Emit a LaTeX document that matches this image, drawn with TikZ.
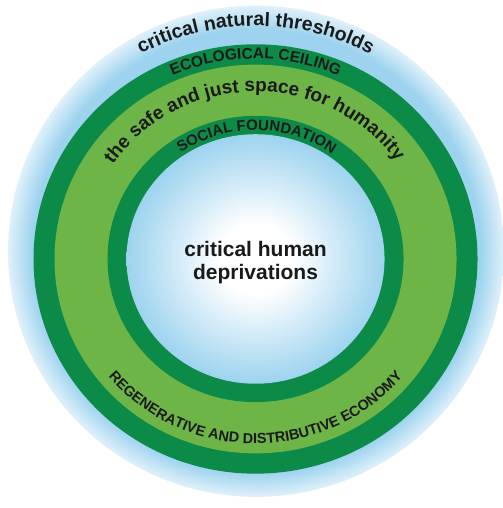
\documentclass[tikz,border=0pt]{standalone}
\usepackage{fontspec}
\setmainfont{Liberation Sans}
\usetikzlibrary{decorations.text}

\definecolor{ringdark}{HTML}{0C8A48}
\definecolor{ringlight}{HTML}{6EB547}
\definecolor{skyblue}{HTML}{9DD3EF}
\definecolor{skypale}{HTML}{E0F1FA}
\definecolor{inkblack}{HTML}{1A1A1A}

\pgfdeclareradialshading{skyband}{\pgfpoint{0bp}{0bp}}{color(0bp)=(skyblue); color(22.6bp)=(skyblue); color(25bp)=(skypale); color(50bp)=(skypale)}
\pgfdeclareradialshading{coreglow}{\pgfpoint{0bp}{0bp}}{color(0bp)=(white); color(7bp)=(white); color(25bp)=(skyblue); color(50bp)=(skyblue)}

\begin{document}
\begin{tikzpicture}[x=1pt,y=0.967pt,
    arctext/.style={decorate,decoration={text along path,text color=inkblack,text align=center,text={#1}}}]
    \useasboundingbox (-255.5,-257.5) rectangle (246.5,267.8);
    \coordinate (c) at (0,0);

    \shade[shading=skyband] (0.5,8) ellipse [x radius=248, y radius=254];
    \fill[ringdark] (c) circle (222);
    \fill[ringlight] (c) circle (201);
    \fill[ringdark] (c) circle (148);
    \shade[shading=coreglow] (c) circle (129);

    \path[arctext={|\fontsize{19.5}{19.5}\selectfont\bfseries|critical natural thresholds}]
        (c) ++(150:241) arc[start angle=150, end angle=30, radius=241];
    \path[arctext={|\fontsize{15.5}{15.5}\selectfont\bfseries|ECOLOGICAL CEILING}]
        (c) ++(150:207) arc[start angle=150, end angle=30, radius=207];
    \path[arctext={|\fontsize{19}{19}\selectfont\bfseries|the safe and just space for humanity}]
        (c) ++(170.5:173) arc[start angle=170.5, end angle=10.5, radius=173];
    \path[arctext={|\fontsize{15}{15}\selectfont\bfseries|SOCIAL FOUNDATION}]
        (c) ++(149.5:133) arc[start angle=149.5, end angle=29.5, radius=133];
    \path[arctext={|\fontsize{14.5}{14.5}\selectfont\bfseries|REGENERATIVE AND DISTRIBUTIVE ECONOMY}]
        (c) ++(195:191) arc[start angle=195, end angle=345, radius=191];

    \node[font=\bfseries\fontsize{21}{23}\selectfont,align=center,text=inkblack] (deprivations) at (0,-4) {critical human\\deprivations};
\end{tikzpicture}
\end{document}
